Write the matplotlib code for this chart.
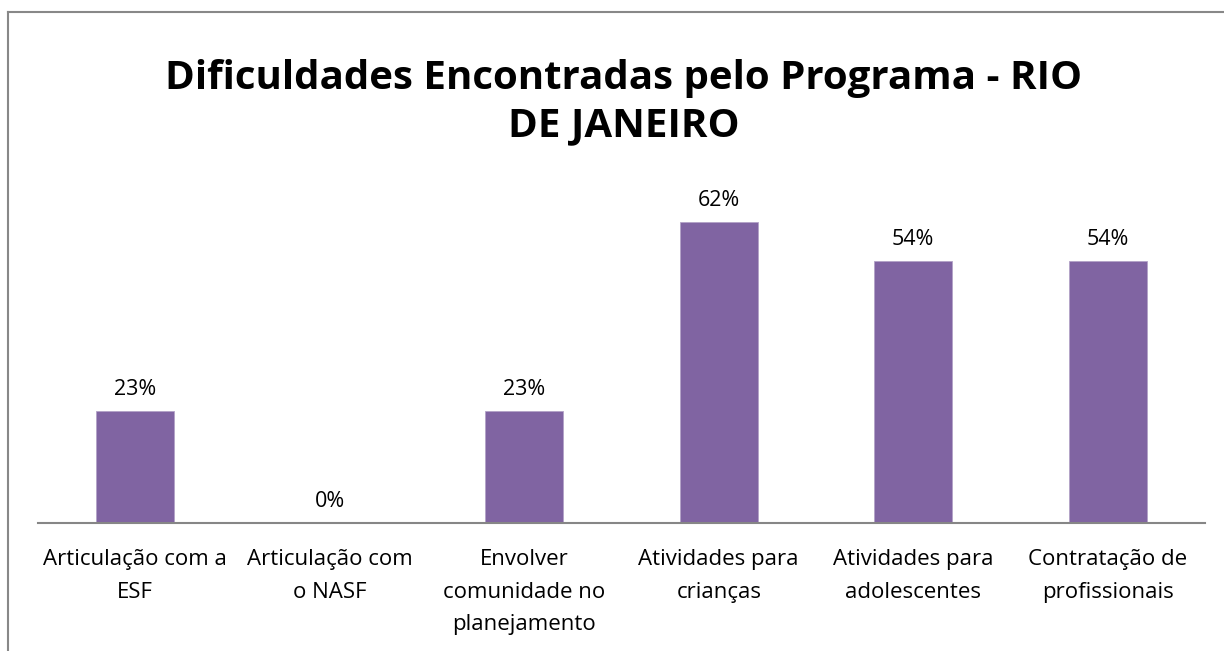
import matplotlib
matplotlib.use("Agg")
from matplotlib import pyplot as plt
from matplotlib.lines import Line2D

categorias = [
    "Articulação com a\nESF",
    "Articulação com\no NASF",
    "Envolver\ncomunidade no\nplanejamento",
    "Atividades para\ncrianças",
    "Atividades para\nadolescentes",
    "Contratação de\nprofissionais",
]
valores = [23, 0, 23, 62, 54, 54]
titulo = "Dificuldades Encontradas pelo Programa - RIO\nDE JANEIRO"

plt.rcParams["font.family"] = ["Open Sans", "DejaVu Sans"]

W, H = 1224, 651
fig = plt.figure(figsize=(W / 100, H / 100), dpi=100)
ax = fig.add_axes([38 / W, 1 - 523 / H, (1205 - 38) / W, (523 - 183.5) / H])

x = range(len(valores))
ax.bar(x, valores, width=0.4, color="#8064A2", edgecolor="#B3A2C7", linewidth=0.6)
for xi, v in zip(x, valores):
    ax.annotate(f"{v}%", (xi, v), xytext=(0, 8), textcoords="offset points",
                ha="center", va="bottom", fontsize=15.5)

ax.set_xlim(-0.5, len(valores) - 0.5)
ax.set_ylim(0, 70)
ax.set_xticks(list(x))
ax.set_xticklabels(categorias, fontsize=16, linespacing=1.72)
ax.tick_params(axis="x", length=0, pad=19)
ax.set_yticks([])
for s in ["top", "right", "left"]:
    ax.spines[s].set_visible(False)
ax.spines["bottom"].set_color("#868686")
ax.spines["bottom"].set_linewidth(1.5)

fig.text(624 / W, 1 - 102 / H, titulo, ha="center", va="center",
         fontsize=29, fontweight="bold", linespacing=1.3)

# moldura do gráfico (cortada à direita e embaixo)
fig.add_artist(Line2D([8 / W, 8 / W], [0, 1 - 12 / H], transform=fig.transFigure,
                      color="#888888", linewidth=1.5))
fig.add_artist(Line2D([8 / W, 1], [1 - 12 / H, 1 - 12 / H], transform=fig.transFigure,
                      color="#888888", linewidth=1.5))

fig.savefig("out.png", dpi=100)
